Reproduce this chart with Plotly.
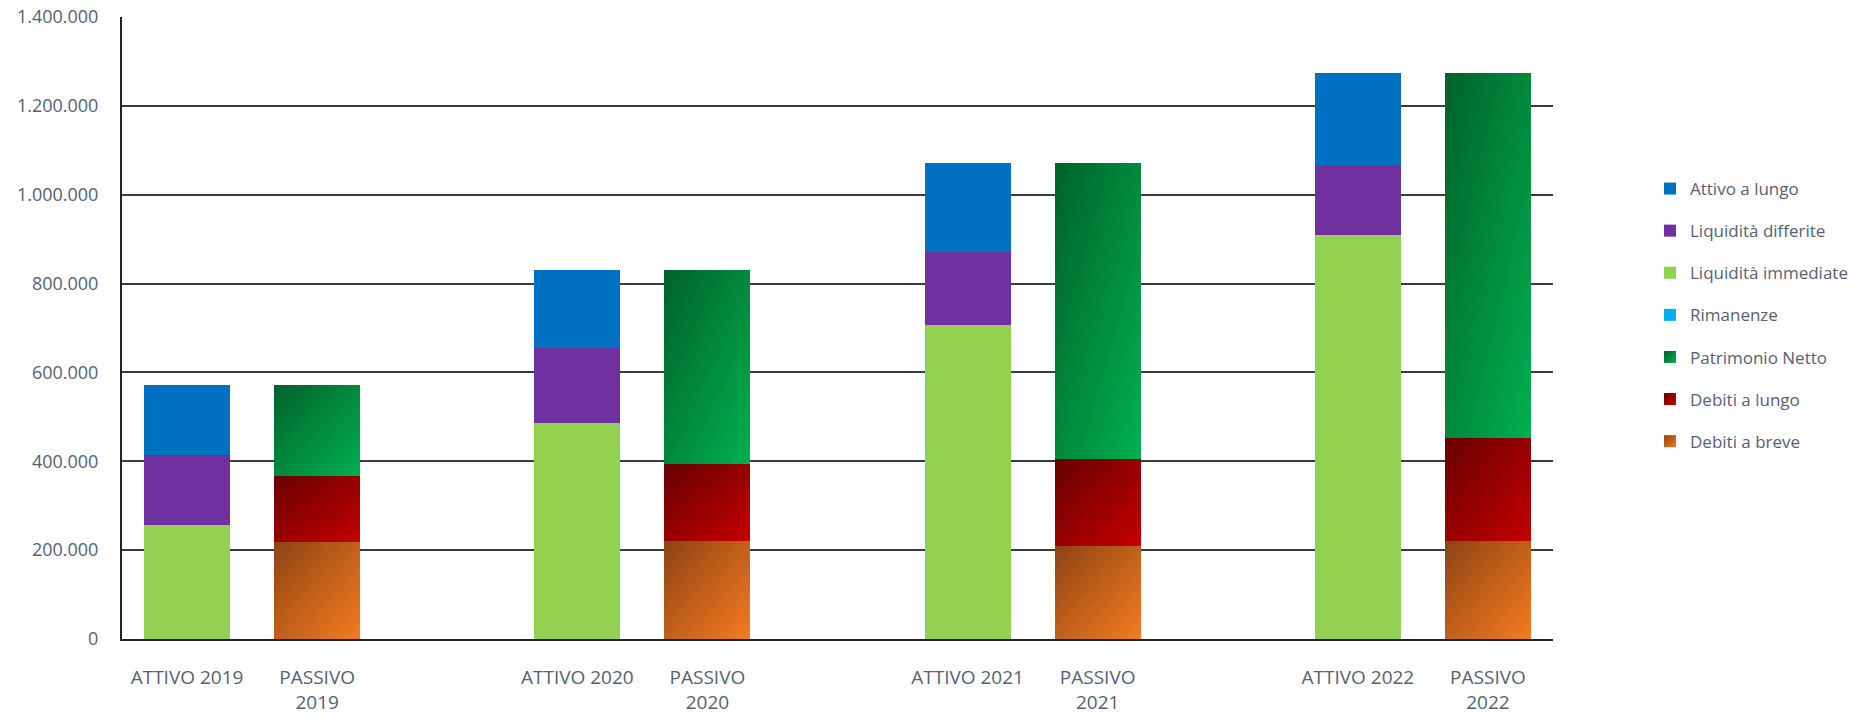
import plotly.graph_objects as go

# ---- data ----
categories = ["ATTIVO 2019", "PASSIVO<br>2019", " ",
              "ATTIVO 2020", "PASSIVO<br>2020", "  ",
              "ATTIVO 2021", "PASSIVO<br>2021", "   ",
              "ATTIVO 2022", "PASSIVO<br>2022"]
attivo_cats = ["ATTIVO 2019", "ATTIVO 2020", "ATTIVO 2021", "ATTIVO 2022"]
passivo_cats = ["PASSIVO<br>2019", "PASSIVO<br>2020", "PASSIVO<br>2021", "PASSIVO<br>2022"]

liquidita_immediate = [256000, 486000, 706000, 909000]
liquidita_differite = [159000, 168000, 166000, 158000]
attivo_a_lungo = [157000, 177000, 199000, 206000]
rimanenze = [0, 0, 0, 0]
debiti_a_breve = [219000, 221000, 210000, 220000]
debiti_a_lungo = [148000, 173000, 195000, 232000]
patrimonio_netto = [205000, 437000, 666000, 821000]

y_ticks = [0, 200000, 400000, 600000, 800000, 1000000, 1200000, 1400000]

legend_order = ["Attivo a lungo", "Liquidità differite", "Liquidità immediate",
                "Rimanenze", "Patrimonio Netto", "Debiti a lungo", "Debiti a breve"]

# ---- styles ----
FONT = "Open Sans"
TXT = "#566174"
colors = {
    "Debiti a breve": "#c8621c",
    "Debiti a lungo": "#9a0000",
    "Patrimonio Netto": "#00923f",
    "Rimanenze": "#00b0f0",
    "Liquidità immediate": "#92d050",
    "Liquidità differite": "#7030a0",
    "Attivo a lungo": "#0070c0",
}

series = [
    ("Debiti a breve", passivo_cats, debiti_a_breve),
    ("Debiti a lungo", passivo_cats, debiti_a_lungo),
    ("Patrimonio Netto", passivo_cats, patrimonio_netto),
    ("Rimanenze", attivo_cats, rimanenze),
    ("Liquidità immediate", attivo_cats, liquidita_immediate),
    ("Liquidità differite", attivo_cats, liquidita_differite),
    ("Attivo a lungo", attivo_cats, attivo_a_lungo),
]

fig = go.Figure()
for name, xs, ys in series:
    fig.add_trace(go.Bar(
        name=name, x=xs, y=ys, legendgroup=name,
        legendrank=legend_order.index(name) + 1,
        marker=dict(color=colors[name], line=dict(width=0)),
    ))

fig.update_layout(
    width=1872, height=716,
    barmode="stack", bargap=0.34,
    paper_bgcolor="white", plot_bgcolor="white",
    margin=dict(l=122, r=319, t=17, b=77, autoexpand=False),
    separators=",.",
    font=dict(family=FONT, color=TXT, size=18),
    legend=dict(
        xref="container", yref="container",
        x=1650 / 1872, y=1 - 171 / 716, xanchor="left", yanchor="top",
        traceorder="grouped", tracegroupgap=17,
        font=dict(family=FONT, size=17, color=TXT),
        bgcolor="rgba(0,0,0,0)",
    ),
    xaxis=dict(
        type="category", categoryorder="array", categoryarray=categories,
        range=[-0.5, len(categories) - 0.5], automargin=False,
        showgrid=False, showline=True, linecolor="#222222", linewidth=2,
        tickfont=dict(family=FONT, size=19, color=TXT),
        ticks="", ticklabelstandoff=20,
    ),
    yaxis=dict(
        range=[0, 1400000], tickvals=y_ticks, tickformat=",d", automargin=False,
        showgrid=True, gridcolor="#3c3c3c", gridwidth=1.5,
        showline=True, linecolor="#222222", linewidth=2,
        zeroline=False,
        tickfont=dict(family=FONT, size=18, color=TXT),
        ticks="", ticklabelstandoff=18,
    ),
)

post_script = r"""
(function(){
var gd = document.getElementById('{plot_id}');
var G = {"Patrimonio Netto":["#00622a","#00b050"],
         "Debiti a lungo":["#680000","#c40000"],
         "Debiti a breve":["#8c4414","#f67b20"]};
var names = Object.keys(G);
var ns = 'http://www.w3.org/2000/svg';
function ensureDefs(){
  var svg = gd.querySelector('svg.main-svg');
  if(!svg) return;
  var defs = svg.querySelector('defs');
  if(!defs){ defs = document.createElementNS(ns,'defs'); svg.insertBefore(defs, svg.firstChild); }
  names.forEach(function(k,i){
    var id = 'bargrad'+i;
    if(document.getElementById(id)) return;
    var lg = document.createElementNS(ns,'linearGradient');
    lg.setAttribute('id', id);
    lg.setAttribute('x1','0'); lg.setAttribute('y1','0');
    lg.setAttribute('x2','1'); lg.setAttribute('y2','1');
    [[0,G[k][0]],[1,G[k][1]]].forEach(function(s){
      var st = document.createElementNS(ns,'stop');
      st.setAttribute('offset', s[0]);
      st.setAttribute('stop-color', s[1]);
      lg.appendChild(st);
    });
    defs.appendChild(lg);
  });
}
function apply(){
  ensureDefs();
  gd.querySelectorAll('.barlayer .trace').forEach(function(t){
    var d = t.__data__;
    var nm = d && d[0] && d[0].trace && d[0].trace.name;
    var i = names.indexOf(nm);
    if(i < 0) return;
    t.querySelectorAll('path').forEach(function(p){ p.style.fill = 'url(#bargrad'+i+')'; });
  });
  gd.querySelectorAll('.legend .traces').forEach(function(t){
    var tx = t.querySelector('.legendtext');
    if(!tx) return;
    var i = names.indexOf(tx.textContent);
    if(i < 0) return;
    t.querySelectorAll('.legendpoints path').forEach(function(p){ p.style.fill = 'url(#bargrad'+i+')'; });
  });
}
apply();
if(gd.on) gd.on('plotly_afterplot', apply);
})();
"""

fig.write_html("out.html", post_script=post_script)
